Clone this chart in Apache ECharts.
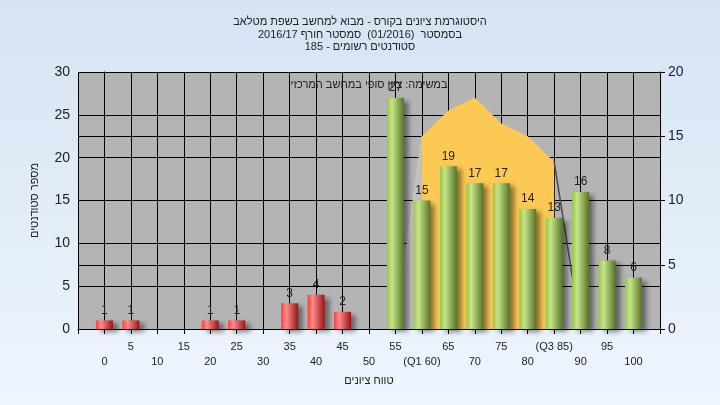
<!DOCTYPE html>
<html>
<head>
<meta charset="utf-8">
<script src="https://cdn.jsdelivr.net/npm/echarts@6/dist/echarts.min.js"></script>
<style>html,body{margin:0;padding:0;}#c{width:720px;height:405px;}</style>
</head>
<body>
<div id="c"></div>
<script>
const scores = [0,5,10,15,20,25,30,35,40,45,50,55,60,65,70,75,80,85,90,95,100];
const counts = [1,1,0,0,1,1,0,3,4,2,0,27,15,19,17,17,14,13,16,8,6];
const xLabels = ['0','5','10','15','20','25','30','35','40','45','50','55','(Q1 60)','65','70','75','80','(Q3 85)','90','95','100'];
const curveX = [55,60,65,70,75,80,85,90];
const curveY = [0,15,17,18,16,15,13,0];
const titleLines = ['היסטוגרמת ציונים בקורס - מבוא למחשב בשפת מטלאב','בסמסטר  (01/2016)  סמסטר חורף 2016/17','סטודנטים רשומים - 185'];
const noteText = 'במשימה: ציון סופי במחשב המרכזי';
const yName = 'מספר סטודנטים';
const xName = 'טווח ציונים';
const passMark = 55;

const FONT = 'Liberation Sans, Arial, sans-serif';
function grad(stops){return {type:'linear',x:0,y:0,x2:1,y2:0,colorStops:stops.map(s=>({offset:s[0],color:s[1]}))};}
const redGrad = grad([[0,'#ff3c3c'],[0.3,'#ff8c8c'],[1,'#9a1414']]);
const greenGrad = grad([[0,'#9ac644'],[0.3,'#c6e488'],[1,'#56742a']]);

const barData = [];
scores.forEach((s,i)=>{ if(counts[i]>0) barData.push({value:[s,counts[i]], itemStyle:{color: s<passMark?redGrad:greenGrad}}); });

const pts = curveX.map((x,i)=>[x,curveY[i]]);
const areaPts = pts.slice(1, pts.length-1);
const leftWedge = pts.slice(0,2);
const rightSlope = pts.slice(pts.length-2);

const chart = echarts.init(document.getElementById('c'), null, {renderer:'canvas'});
chart.setOption({
  animation:false,
  backgroundColor:{type:'linear',x:0,y:0,x2:0,y2:1,colorStops:[{offset:0,color:'#d5e3f3'},{offset:1,color:'#eef5fd'}]},
  textStyle:{fontFamily:FONT},
  title:{text:titleLines.join('\n'),left:'center',top:11,textStyle:{fontSize:11,fontWeight:'normal',color:'#222',lineHeight:12.5,fontFamily:FONT}},
  grid:{left:78,right:60,top:72,bottom:76,show:true,backgroundColor:'#b4b4b4',borderWidth:0},
  xAxis:{type:'value',min:-5,max:105,interval:5,
    name:xName,nameLocation:'middle',nameGap:46,nameTextStyle:{fontSize:11,color:'#222'},
    axisLine:{lineStyle:{color:'#000'}},axisTick:{length:5,lineStyle:{color:'#000'}},
    splitLine:{show:true,lineStyle:{color:'#000',width:1}},
    axisLabel:{fontSize:11,color:'#222',margin:10,lineHeight:15,
      formatter:function(v){const i=Math.round(v/5); if(v<0||i>=xLabels.length) return ''; return (v%10===0?'\n':'')+xLabels[i];}}},
  yAxis:[
    {type:'value',min:0,max:30,interval:5,position:'left',
      name:yName,nameLocation:'middle',nameGap:38,nameTextStyle:{fontSize:11,color:'#222'},
      axisLine:{show:true,lineStyle:{color:'#000'}},axisTick:{show:true,length:5,lineStyle:{color:'#000'}},
      axisLabel:{fontSize:14,color:'#222',margin:8},
      splitLine:{show:true,lineStyle:{color:'#000',width:1}}},
    {type:'value',min:0,max:20,interval:5,position:'right',
      axisLine:{show:true,lineStyle:{color:'#000'}},axisTick:{show:true,length:5,lineStyle:{color:'#000'}},
      axisLabel:{fontSize:14,color:'#1a1a40',margin:8},
      splitLine:{show:true,lineStyle:{color:'#000',width:1}}}
  ],
  graphic:[{type:'text',x:369,y:85,z:10,style:{text:noteText,fontSize:11,fill:'#222',align:'center',verticalAlign:'middle',fontFamily:FONT}}],
  series:[
    {type:'line',yAxisIndex:1,data:areaPts,symbol:'none',lineStyle:{width:0},areaStyle:{color:'#fdc955',opacity:1},z:1,silent:true},
    {type:'line',yAxisIndex:1,data:leftWedge,symbol:'none',lineStyle:{width:1,color:'#c9c9c9'},areaStyle:{color:'#c0c0c0',opacity:1},z:1,silent:true},
    {type:'line',yAxisIndex:1,data:rightSlope,symbol:'none',lineStyle:{width:1.5,color:'#4a4a4a'},z:1,silent:true},
    {type:'bar',yAxisIndex:0,data:barData,barWidth:17,z:3,
      itemStyle:{shadowColor:'rgba(0,0,0,0.45)',shadowBlur:5,shadowOffsetX:5,shadowOffsetY:3},
      label:{show:true,position:'top',distance:4,fontSize:12,color:'#222',fontFamily:FONT}}
  ]
});
</script>
</body>
</html>
